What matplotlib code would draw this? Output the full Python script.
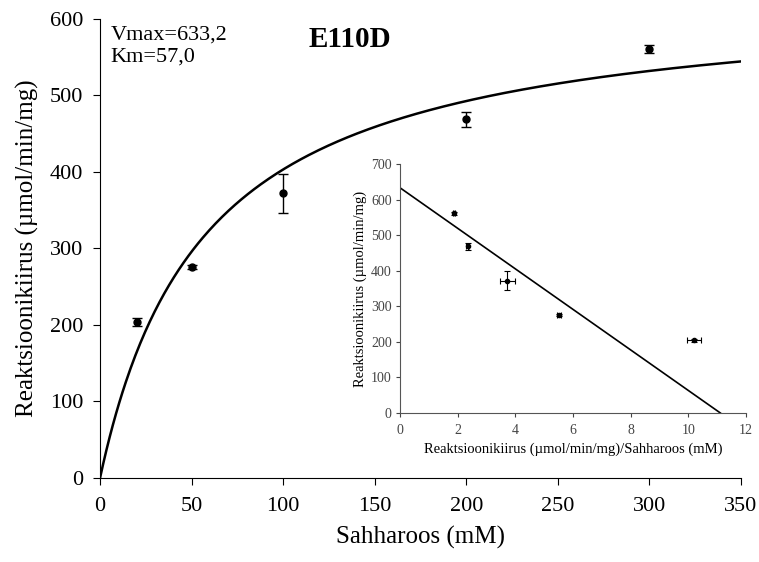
import numpy as np
import matplotlib
matplotlib.use("Agg")
import matplotlib.pyplot as plt

plt.rcParams['font.family'] = ['Liberation Serif', 'DejaVu Serif']

# Data
substrate = [20, 50, 100, 200, 300]          # mM
rate = [204, 276, 372, 469, 561]             # µmol/min/mg
rate_err = [5, 3, 26, 10, 5]
ratio = [10.2, 5.52, 3.72, 2.35, 1.87]       # rate / substrate
ratio_err = [0.25, 0.06, 0.26, 0.05, 0.02]
vmax = 633.2
km = 57.0

main_xticks = [0, 50, 100, 150, 200, 250, 300, 350]
main_yticks = [0, 100, 200, 300, 400, 500, 600]
inset_xticks = [0, 2, 4, 6, 8, 10, 12]
inset_yticks = [0, 100, 200, 300, 400, 500, 600, 700]

fig = plt.figure(figsize=(7.59, 5.62), dpi=100)
ax = fig.add_axes([0.1318, 0.1495, 0.8445, 0.8167])

s = np.linspace(0, 350, 400)
ax.plot(s, vmax * s / (km + s), color='black', lw=1.8)
ax.errorbar(substrate, rate, yerr=rate_err, fmt='o', color='black', ms=5,
            capsize=3.5, elinewidth=1, capthick=1)
ax.set_xlim(0, 350)
ax.set_ylim(0, 600)
ax.set_xticks(main_xticks)
ax.set_yticks(main_yticks)
for sp in ['top', 'right']:
    ax.spines[sp].set_visible(False)
ax.tick_params(direction='out', length=5, labelsize=16, pad=7)
ax.tick_params(axis='x', pad=9)
ax.set_xlabel('Sahharoos (mM)', fontsize=18, labelpad=7)
ax.set_ylabel('Reaktsioonikiirus (µmol/min/mg)', fontsize=18, labelpad=8)

ax.text(0.016, 0.985, 'Vmax=633,2\nKm=57,0', transform=ax.transAxes,
        fontsize=16, va='top', ha='left', linespacing=1.2)
ax.text(0.39, 0.985, 'E110D', transform=ax.transAxes, fontsize=21,
        fontweight='bold', va='top', ha='center')

# Inset: Eadie-Hofstee
ins = fig.add_axes([0.527, 0.2651, 0.456, 0.4431])
xl = np.array([0, vmax / km])
ins.plot(xl, vmax - km * xl, color='black', lw=1.2)
ins.errorbar(ratio, rate, xerr=ratio_err, yerr=rate_err, fmt='o', color='black',
             ms=3, capsize=2.5, elinewidth=0.8, capthick=0.8)
ins.set_xlim(0, 12)
ins.set_ylim(0, 700)
ins.set_xticks(inset_xticks)
ins.set_yticks(inset_yticks)
for sp in ['top', 'right']:
    ins.spines[sp].set_visible(False)
for sp in ['left', 'bottom']:
    ins.spines[sp].set_color('#555555')
ins.tick_params(direction='out', length=3, labelsize=10, colors='#444444', pad=3)
ins.tick_params(axis='x', pad=5)
ins.set_xlabel('Reaktsioonikiirus (µmol/min/mg)/Sahharoos (mM)', fontsize=10.5,
               labelpad=4)
ins.set_ylabel('Reaktsioonikiirus (µmol/min/mg)', fontsize=10.5, labelpad=3)

fig.savefig('out.png', dpi=100)
